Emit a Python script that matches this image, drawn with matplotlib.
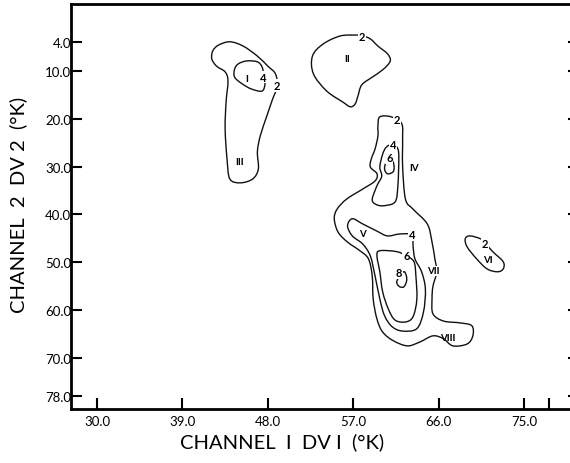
import numpy as np
import matplotlib
matplotlib.use("Agg")
import matplotlib.pyplot as plt
from matplotlib.path import Path
from matplotlib.patches import PathPatch

# axis ticks
x_ticks = [30.0, 39.0, 48.0, 57.0, 66.0, 75.0, 77.6]
x_ticklabels = ["30.0", "39.0", "48.0", "57.0", "66.0", "75.0", ""]
y_ticks = [4.0, 10.0, 20.0, 30.0, 40.0, 50.0, 60.0, 70.0, 78.0]
y_ticklabels = ["4.0", "10.0", "20.0", "30.0", "40.0", "50.0", "60.0", "70.0", "78.0"]

# contour outlines, (dv1, dv2) in deg K
c2_i_iii = [(42.2, 5.8), (42.1, 7.5), (42.6, 9.0), (43.5, 10.2), (43.8, 12.1),
            (43.6, 16.5), (43.5, 22.1), (43.7, 28.4), (44.0, 32.6), (45.1, 33.4),
            (46.4, 32.6), (47.0, 30.5), (46.9, 26.9), (47.2, 23.6), (47.9, 19.4),
            (48.5, 15.9), (49.0, 13.2), (48.8, 10.6), (48.0, 9.0), (46.9, 6.9),
            (45.4, 4.8), (44.0, 3.9), (42.8, 4.6)]
c4_i = [(44.5, 9.6), (44.9, 8.5), (45.8, 7.9), (46.9, 8.1), (47.4, 9.2),
        (47.6, 11.3), (47.7, 12.7), (47.4, 14.2), (46.3, 13.8), (45.3, 12.7),
        (44.5, 11.3)]
c2_ii = [(53.8, 4.4), (55.6, 2.7), (57.2, 2.5), (57.9, 2.6), (58.8, 3.3),
         (59.6, 4.8), (60.6, 6.4), (60.9, 7.9), (60.2, 9.6), (59.0, 11.3),
         (57.9, 12.9), (57.5, 15.2), (57.2, 16.9), (56.7, 17.5), (55.9, 16.5),
         (54.2, 14.2), (52.8, 10.6), (52.7, 6.9)]
c2_main = [(61.0, 19.6), (59.8, 19.6), (59.6, 21.5), (59.6, 23.6), (59.3, 26.3),
           (58.9, 28.4), (58.8, 30.1), (59.5, 31.5), (59.3, 33.0), (58.0, 34.7),
           (56.3, 36.8), (55.3, 38.9), (55.0, 40.9), (55.4, 43.7), (56.4, 45.8),
           (57.7, 47.6), (58.6, 49.3), (59.0, 52.9), (59.1, 57.7), (59.5, 61.9),
           (60.1, 64.6), (61.2, 66.4), (62.7, 67.5), (64.0, 66.7), (65.4, 65.4),
           (66.5, 66.0), (67.5, 67.5), (69.0, 67.1), (69.6, 65.4), (69.5, 63.3),
           (68.3, 62.7), (66.5, 62.3), (65.4, 60.8), (65.3, 57.7), (65.4, 55.0),
           (65.8, 52.0), (65.6, 49.3), (65.3, 45.8), (64.8, 42.0), (63.3, 38.9),
           (62.5, 36.8), (62.2, 29.9), (62.2, 24.2), (62.1, 21.0)]
c4_iv = [(61.2, 25.3), (60.5, 25.9), (60.1, 27.4), (59.8, 30.1), (60.0, 32.0),
         (59.5, 34.0), (59.0, 36.8), (59.3, 37.8), (60.1, 38.2), (61.4, 37.4),
         (61.7, 34.0), (61.8, 28.4), (61.7, 26.3)]
c6_iv = [(60.5, 29.0), (60.3, 30.5), (60.6, 31.5), (61.2, 31.1), (61.3, 29.9),
         (61.1, 28.8)]
c4_v = [(63.2, 44.3), (61.9, 44.1), (60.6, 44.5), (59.5, 43.5), (58.0, 42.0),
        (56.9, 40.9), (56.4, 42.4), (56.9, 44.5), (58.0, 46.2), (58.8, 48.7),
        (59.3, 52.9), (59.8, 57.7), (60.3, 61.2), (61.1, 63.5), (62.2, 64.4),
        (63.7, 63.9), (64.4, 60.4), (64.6, 55.6), (64.2, 52.0), (63.5, 49.3),
        (63.3, 46.6)]
c6_vii = [(62.6, 48.7), (61.6, 47.8), (59.8, 47.6), (59.5, 48.7), (59.8, 52.0),
          (60.1, 56.2), (60.7, 59.8), (61.4, 62.1), (62.5, 62.5), (63.3, 61.4),
          (63.7, 57.7), (63.6, 52.9), (63.4, 49.9)]
c8_vii = [(61.6, 53.9), (61.8, 55.0), (62.3, 55.2), (62.6, 54.1), (62.6, 52.9),
          (62.3, 52.0)]
c2_vi = [(68.8, 45.1), (69.3, 44.5), (70.4, 45.1), (70.9, 46.0), (71.7, 47.8),
         (72.8, 49.9), (72.8, 51.4), (72.2, 52.0), (71.1, 51.4), (70.0, 49.3),
         (69.0, 46.8)]
outlines = [c2_i_iii, c4_i, c2_ii, c2_main, c4_iv, c6_iv, c4_v, c6_vii, c8_vii, c2_vi]

# level labels sitting on the lines
level_text = ["2", "4", "2", "2", "4", "6", "4", "6", "8", "2"]
level_x = [49.0, 47.5, 57.9, 61.6, 61.2, 60.8, 63.2, 62.6, 61.8, 70.9]
level_y = [13.1, 11.3, 2.7, 20.2, 25.3, 28.2, 44.3, 48.7, 52.2, 46.0]

# region numerals
region_text = ["I", "II", "III", "IV", "V", "VI", "VII", "VIII"]
region_x = [45.8, 56.4, 45.0, 63.4, 58.0, 71.2, 65.4, 67.0]
region_y = [11.5, 7.5, 29.0, 30.1, 44.1, 49.5, 51.8, 65.8]


def closed_curve(pts):
    """Catmull-Rom loop through pts, as cubic Bezier segments."""
    p = np.asarray(pts, dtype=float)
    n = len(p)
    verts = [p[0]]
    codes = [Path.MOVETO]
    for i in range(n):
        p0, p1, p2, p3 = p[i - 1], p[i], p[(i + 1) % n], p[(i + 2) % n]
        verts += [p1 + (p2 - p0) / 6, p2 - (p3 - p1) / 6, p2]
        codes += [Path.CURVE4] * 3
    return Path(verts, codes)


plt.rcParams['font.family'] = ['Lato', 'DejaVu Sans']

fig = plt.figure(figsize=(5.70, 4.64), dpi=100)
# right spine sits just past the edge of the page
ax = fig.add_axes([71 / 570, 54 / 464, 505 / 570, 405 / 464])
ax.set_xlim(27.26, 80.47)
ax.set_ylim(80.7, -4.0)

for pts in outlines:
    ax.add_patch(PathPatch(closed_curve(pts), fill=False, ec='#111111', lw=1.0))

for t, x, y in zip(level_text, level_x, level_y):
    ax.text(x, y, t, ha='center', va='center', fontsize=8, fontweight='bold',
            bbox=dict(fc='white', ec='none', pad=0.6))

for t, x, y in zip(region_text, region_x, region_y):
    ax.text(x, y, t, ha='center', va='center', fontsize=7, fontweight='bold',
            bbox=dict(fc='white', ec='none', pad=0.4) if t == "VII" else None)

ax.set_xticks(x_ticks)
ax.set_xticklabels(x_ticklabels)
ax.set_yticks(y_ticks)
ax.set_yticklabels(y_ticklabels)
ax.tick_params(axis='x', direction='in', length=8, width=1.5, pad=4.5,
               labelsize=9.5, top=False)
ax.tick_params(axis='y', direction='in', length=8, width=1.5, pad=0,
               labelsize=9.5, right=True)
for tk in ax.yaxis.get_major_ticks():
    tk.tick2line.set_markersize(6)
for s in ax.spines.values():
    s.set_linewidth(2.0)

fig.text(282 / 570, 1 - 442 / 464, "CHANNEL  I  DV I  (°K)", ha='center',
         va='center', fontsize=14.5)
fig.text(18 / 570, 1 - 205 / 464, "CHANNEL  2  DV 2  (°K)", ha='center',
         va='center', rotation=90, fontsize=14.5)

fig.savefig("out.png", dpi=100)
